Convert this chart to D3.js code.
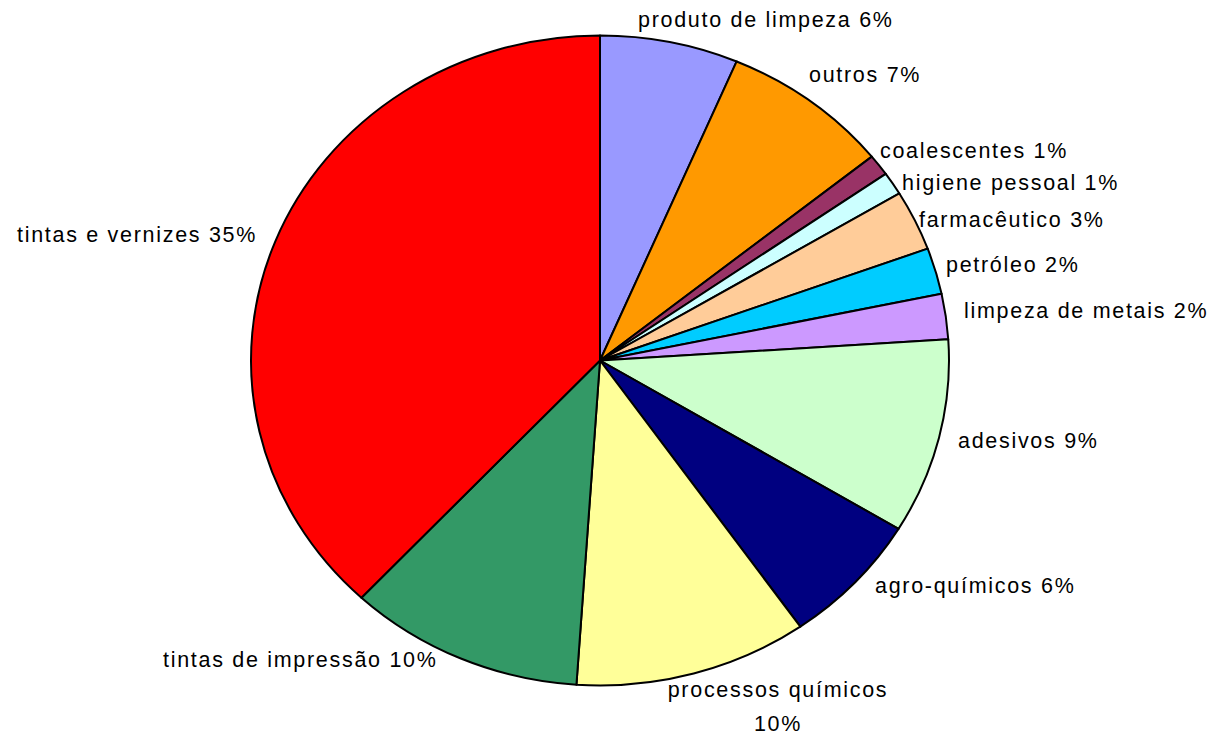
<!DOCTYPE html>
<html>
<head>
<meta charset="utf-8">
<script src="https://cdn.jsdelivr.net/npm/d3@7/dist/d3.min.js"></script>
<style>
  body { margin: 0; background: #fff; }
  svg text { font-family: "Liberation Sans", Arial, sans-serif; font-size: 21.5px; letter-spacing: 1.7px; fill: #000; }
</style>
</head>
<body>
<div id="chart"></div>
<script>
// categories, clockwise from 12 o'clock
var categories = ['produto de limpeza', 'outros', 'coalescentes', 'higiene pessoal', 'farmacêutico',
  'petróleo', 'limpeza de metais', 'adesivos', 'agro-químicos', 'processos químicos',
  'tintas de impressão', 'tintas e vernizes'];
// slice shares (angle of each slice)
var values = [6.4, 7.8, 1.06, 1.14, 3.0, 2.3, 2.25, 9.7, 6.6, 10.8, 10.9, 38.0];
// percentages as printed on the labels
var pctLabels = ['6%', '7%', '1%', '1%', '3%', '2%', '2%', '9%', '6%', '10%', '10%', '35%'];
var colors = ['#9999FF', '#FF9900', '#993366', '#CCFFFF', '#FFCC99', '#00CCFF', '#CC99FF',
  '#CCFFCC', '#000080', '#FFFF99', '#339966', '#FF0000'];

// label placement: [x, baseline y, anchor]
var labelPos = [
  [638, 27, 'start'], [809, 82, 'start'], [880, 158, 'start'], [902, 190, 'start'],
  [919, 227, 'start'], [946, 272, 'start'], [964, 318, 'start'], [958, 448, 'start'],
  [875, 593, 'start'], [778, 697, 'middle'], [163, 667, 'start'], [17, 242, 'start']
];

var width = 1213, height = 737;
var cx = 600, cy = 360.5, rx = 349, ry = 325;

var svg = d3.select('#chart').append('svg')
  .attr('width', width)
  .attr('height', height);

var pie = d3.pie().sort(null).value(function (d) { return d; });
var arc = d3.arc().innerRadius(0).outerRadius(ry);

var slices = svg.append('g')
  .attr('transform', 'translate(' + cx + ',' + cy + ') scale(' + (rx / ry) + ',1)');

slices.selectAll('path')
  .data(pie(values))
  .enter()
  .append('path')
  .attr('d', arc)
  .attr('fill', function (d, i) { return colors[i]; })
  .attr('stroke', '#000')
  .attr('stroke-width', 2)
  .attr('stroke-linejoin', 'round')
  .attr('vector-effect', 'non-scaling-stroke');

// labels
var labels = svg.append('g');
categories.forEach(function (c, i) {
  var p = labelPos[i];
  var t = labels.append('text')
    .attr('x', p[0])
    .attr('y', p[1])
    .attr('text-anchor', p[2]);
  if (c === 'processos químicos') {
    t.append('tspan').attr('x', p[0]).text(c);
    t.append('tspan').attr('x', p[0]).attr('dy', 34).text(pctLabels[i]);
  } else {
    t.text(c + ' ' + pctLabels[i]);
  }
});
</script>
</body>
</html>
